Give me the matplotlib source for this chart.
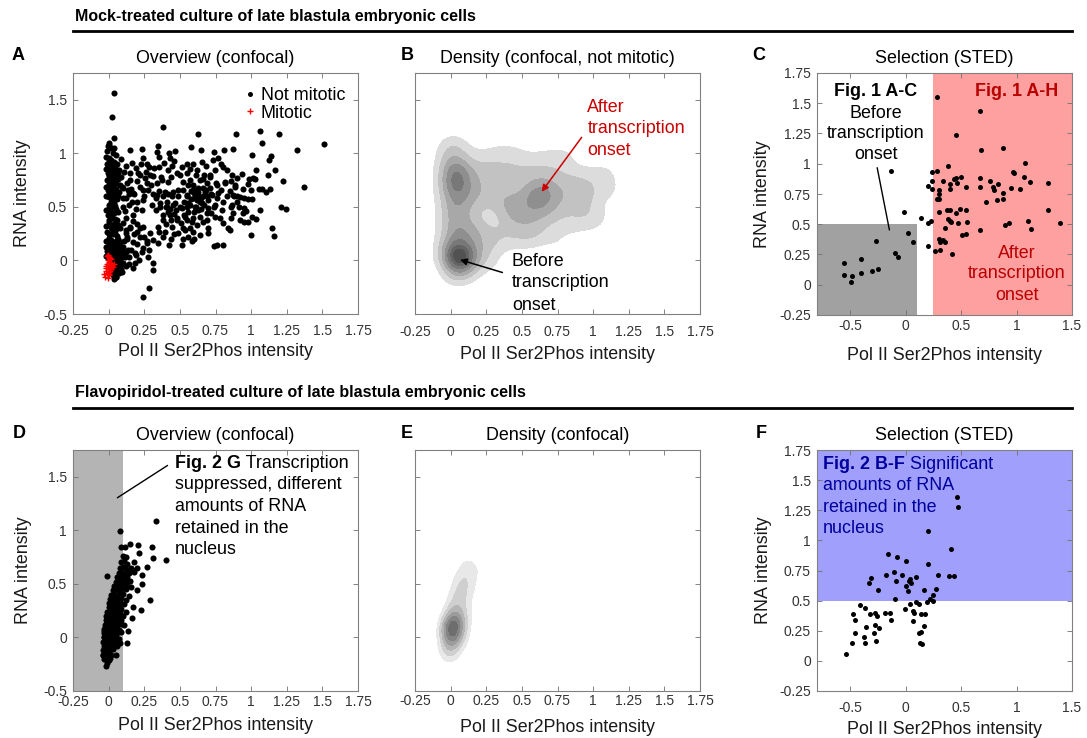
import numpy as np
import matplotlib
matplotlib.use('Agg')
import matplotlib.pyplot as plt
from matplotlib.lines import Line2D
from matplotlib.patches import Rectangle

plt.rcParams['font.family'] = ['Liberation Sans', 'DejaVu Sans']

# ---------------- DATA ----------------
# Panel A: not mitotic cells (Pol II Ser2Phos, RNA)
A_COLUMN = [(0.0,1.08),(0.02,1.05),(-0.01,1.02),(0.03,1.0),(0.05,0.98),(0.0,0.96),(0.015,0.94),(0.04,0.92),
            (-0.01,0.9),(0.06,0.9),(0.02,0.88),(0.0,0.86),(0.035,0.85),(0.07,0.84),(-0.005,0.82),(0.05,0.81),
            (0.02,0.8),(0.01,0.78),(0.04,0.77),(0.065,0.76),(-0.01,0.75),(0.025,0.74),(0.05,0.72),(0.0,0.71),
            (0.035,0.7),(0.08,0.7),(0.015,0.68),(0.055,0.67),(-0.005,0.66),(0.03,0.65),(0.07,0.64),(0.01,0.62),
            (0.045,0.61),(0.0,0.59),(0.025,0.58),(0.06,0.57),(0.015,0.55),(0.04,0.54),(0.02,0.76),(0.04,0.79),
            (0.03,0.72),(0.05,0.75),(0.01,0.73),(0.06,0.8),(0.03,0.83),(0.0,0.79),(0.0,0.52),(0.03,0.5),
            (0.055,0.48),(0.01,0.46),(0.04,0.44),(-0.005,0.42),(0.025,0.4),(0.06,0.38),(0.0,0.36),(0.035,0.34),
            (0.015,0.31),(0.05,0.29),(-0.01,0.27),(0.03,0.25),(0.06,0.23),(0.0,0.21)]
A_COLUMN_FILL = [(-0.015,0.97),(0.005,0.93),(0.025,0.91),(0.045,0.87),(-0.015,0.85),(0.005,0.83),(0.065,0.82),
                 (0.025,0.69),(-0.015,0.69),(0.045,0.66),(0.005,0.64),(0.065,0.6),(-0.015,0.6),(0.025,0.56),
                 (0.045,0.51),(0.005,0.49),(0.065,0.45),(-0.015,0.47),(0.025,0.43),(0.045,0.39),(0.005,0.38),
                 (0.065,0.33),(-0.015,0.32),(0.025,0.29),(0.045,0.26),(0.005,0.25),(0.065,0.2),(-0.015,0.18),
                 (0.025,0.14),(0.045,0.13),(-0.015,0.13),(0.005,0.1),(0.065,0.1),(-0.015,0.04),(0.08,0.06),
                 (0.09,-0.03),(0.1,0.08),(0.11,0.18)]
A_BOTTOM = [(0.02,0.19),(0.05,0.18),(0.08,0.17),(0.0,0.16),(0.035,0.15),(0.065,0.14),(0.1,0.13),(0.015,0.12),
            (0.05,0.11),(0.085,0.1),(-0.01,0.09),(0.03,0.09),(0.06,0.08),(0.12,0.08),(0.0,0.06),(0.04,0.06),
            (0.075,0.05),(0.1,0.04),(0.02,0.04),(0.055,0.03),(0.14,0.03),(-0.005,0.02),(0.035,0.02),(0.08,0.01),
            (0.045,0.0),(0.065,-0.01),(0.02,-0.01),(0.1,-0.02),(0.05,-0.03),(0.03,-0.04),(0.075,-0.05),(0.12,-0.05),
            (0.04,-0.06),(0.06,-0.08),(0.09,-0.08),(0.02,-0.09),(0.045,-0.11),(0.07,-0.12),(0.03,-0.14),(0.055,-0.15),
            (0.04,-0.17),(0.08,-0.1),(0.05,0.02),(0.04,0.03),(0.06,0.01),(0.045,0.04),(0.055,-0.005),(0.035,0.005),
            (0.065,0.025),(0.05,0.05),(0.04,-0.02),(0.06,0.045),(0.03,0.03),(0.07,0.0),
            (0.15,0.3),(0.18,0.25),(0.2,0.15),(0.13,0.2),(0.22,0.3),(0.25,0.22),(0.16,0.1),(0.19,0.05),
            (0.24,0.12),(0.27,0.18),(0.21,0.0),(0.14,-0.03),(0.17,-0.07),(0.12,0.28),(0.28,0.1)]
A_CLOUD = [(0.038,1.562),(0.024,1.335),(0.384,1.248),(0.625,1.182),(0.038,1.139),(0.005,1.095),(-0.002,1.064),
           (0.038,1.049),(0.578,1.055),(0.646,1.03),(0.349,1.073),(0.15,1.03),(0.237,1.042),(0.342,1.017),
           (0.426,1.005),(0.466,1.02),(0.737,1.008),(0.812,1.027),(0.244,0.961),(0.356,0.97),(0.43,0.961),
           (0.513,0.877),(0.552,0.899),(0.59,0.905),(0.653,0.917),(0.73,0.936),(0.77,0.952),(0.786,0.902),
           (0.805,0.868),(0.166,0.908),(0.23,0.899),(0.286,0.877),(0.356,0.877),(0.414,0.846),(0.442,0.883),
           (0.478,0.815),(0.552,0.815),(0.618,0.846),(0.669,0.8),(0.711,0.777),(0.746,0.846),(0.828,0.846),
           (0.863,0.8),(0.11,0.83),(0.15,0.815),(0.204,0.815),(0.255,0.768),(0.314,0.793),(0.372,0.752),
           (0.419,0.737),(0.524,0.737),(0.571,0.752),(0.641,0.752),(0.688,0.721),(0.758,0.706),(0.817,0.737),
           (0.887,0.69),(0.092,0.69),(0.138,0.659),(0.173,0.628),(0.22,0.69),(0.279,0.659),(0.337,0.612),
           (0.396,0.643),(0.442,0.597),(0.489,0.659),(0.548,0.612),(0.594,0.659),(0.629,0.612),(0.676,0.643),
           (0.723,0.612),(0.77,0.628),(0.828,0.597),(0.103,0.581),(0.162,0.55),(0.244,0.565),(0.302,0.519),
           (0.36,0.534),(0.407,0.503),(0.466,0.534),(0.513,0.488),(0.559,0.534),(0.606,0.503),(0.653,0.534),
           (0.7,0.488),(0.747,0.519),(0.793,0.472),(0.863,0.519),(0.115,0.457),(0.173,0.425),(0.232,0.472),
           (0.384,0.379),(0.431,0.425),(0.478,0.379),(0.536,0.41),(0.583,0.363),(0.641,0.41),(0.688,0.379),
           (0.746,0.41),(0.805,0.347),(0.84,0.301),(0.103,0.347),(0.15,0.316),(0.197,0.27),(0.244,0.316),
           (0.29,0.254),(0.349,0.316),(0.396,0.27),(0.442,0.316),(0.489,0.254),(0.536,0.285),(0.594,0.27),
           (0.641,0.238),(0.695,0.254),(0.559,0.223),(0.127,0.223),(0.173,0.176),(0.22,0.223),(0.267,0.161),
           (0.314,0.192),(0.349,0.161),(0.426,0.145),(0.513,0.145),(0.583,0.185),(0.742,0.136),(0.763,0.142),
           (0.805,0.142),(0.092,0.13),(0.138,0.098),(0.185,0.067),(0.232,0.083),(0.279,0.036),(0.314,-0.026),
           (0.309,-0.089),(0.08,0.005),(0.115,0.036),(0.185,-0.026),(0.092,-0.104),(0.052,-0.151),(0.286,-0.26),
           (0.244,-0.338),
           (0.55,0.6),(0.58,0.65),(0.6,0.58),(0.62,0.62),(0.64,0.55),(0.66,0.6),(0.68,0.66),(0.57,0.52),
           (0.61,0.5),(0.65,0.48),(0.7,0.56),(0.72,0.62),(0.59,0.7),(0.63,0.68),(0.53,0.55),(0.67,0.52),
           (0.6,0.45),(0.74,0.5),(0.62,0.56),(0.56,0.45),(0.4,0.5),(0.42,0.45),(0.45,0.52),(0.38,0.42),
           (0.44,0.38),(0.47,0.47),(0.41,0.55),(0.36,0.5),(0.48,0.4),(0.5,0.5),(0.3,0.7),(0.25,0.6),
           (0.35,0.65),(0.2,0.55),(0.33,0.58),(0.15,0.75),(0.18,0.62),(0.1,0.68),(0.12,0.58),(0.22,0.8),
           (0.27,0.9),(0.8,0.55),(0.85,0.65),(0.78,0.4),(0.9,0.6),(0.75,0.72),(0.52,0.3),(0.46,0.25),
           (0.7,0.3),(0.6,0.2),(0.38,0.22)]
A_CLOUD_FILL = [(0.09,0.95),(0.12,0.88),(0.19,0.86),(0.26,0.83),(0.32,0.86),(0.39,0.91),(0.46,0.93),(0.5,0.8),
                (0.44,0.78),(0.34,0.72),(0.27,0.72),(0.2,0.74),(0.13,0.72),(0.09,0.78),(0.16,0.67),(0.24,0.66),
                (0.31,0.62),(0.38,0.6),(0.45,0.64),(0.52,0.66),(0.14,0.62),(0.1,0.5),(0.14,0.52),(0.19,0.48),
                (0.12,0.4),(0.17,0.37),(0.08,0.3),(0.2,0.34),(0.12,0.26),(0.33,0.47),
                (0.4,0.34),(0.43,0.48),(0.46,0.43),(0.49,0.6),(0.53,0.42),(0.51,0.35),(0.55,0.38),(0.57,0.3),
                (0.62,0.33),(0.66,0.36),(0.69,0.44),(0.72,0.44),(0.76,0.58),(0.79,0.66),(0.82,0.72),(0.71,0.8),
                (0.66,0.76),(0.61,0.8),(0.56,0.7),(0.57,0.85),(0.68,0.88),(0.63,0.64),(0.65,0.58),(0.6,0.63),
                (0.58,0.57),(0.55,0.5),(0.63,0.47),(0.69,0.6),(0.61,0.66),(0.66,0.68),(0.71,0.68),(0.59,0.4),
                (0.52,0.2),(0.44,0.2),(0.35,0.27),(0.42,0.62),(0.37,0.78),(0.29,0.8)]
A_SPARSE = [(0.894,1.18),(1.06,1.21),(1.198,1.18),(1.514,1.086),(1.077,1.095),(0.875,1.036),(1.322,1.03),
            (1.009,0.98),(1.14,0.977),(1.128,0.936),(1.037,0.843),(1.165,0.843),(0.939,0.81),(1.121,0.796),
            (0.899,0.774),(0.983,0.765),(1.011,0.774),(1.03,0.759),(1.226,0.743),(0.859,0.743),(0.885,0.703),
            (0.98,0.712),(0.946,0.668),(0.997,0.659),(1.053,0.668),(1.079,0.668),(1.105,0.643),(1.133,0.671),
            (1.369,0.687),(0.871,0.609),(0.882,0.597),(0.925,0.59),(0.95,0.584),(0.98,0.578),(1.006,0.572),
            (0.899,0.541),(0.861,0.503),(0.875,0.447),(0.915,0.5),(0.952,0.488),(0.946,0.441),(0.964,0.463),
            (0.925,0.376),(0.952,0.363),(0.98,0.363),(1.006,0.407),(1.037,0.385),(1.065,0.469),(1.212,0.503),
            (1.243,0.484),(1.149,0.301),(1.158,0.232),(1.0,0.238),(0.86,0.394),(0.852,0.285)]
A_MITOTIC = [(-0.01,0.04),(0.0,0.03),(0.01,0.02),(-0.005,0.0),(0.005,-0.01),(0.015,-0.02),(-0.01,-0.03),
             (0.0,-0.04),(0.02,-0.05),(0.01,-0.06),(-0.015,-0.07),(0.0,-0.08),(0.025,-0.04),(0.03,-0.06),
             (-0.02,-0.1),(-0.01,-0.12),(0.0,-0.11),(0.01,-0.1),(-0.03,-0.13),(-0.025,-0.15),(-0.005,-0.16),
             (0.005,-0.13),(0.02,0.01),(-0.005,0.05),(0.015,-0.08),(0.035,-0.03),(-0.02,-0.05),(0.0,-0.14)]

# Panel C: STED selection, mock
C_POINTS = [(-0.56,0.18),(-0.56,0.083),(-0.48,0.072),(-0.49,0.025),(-0.40,0.097),(-0.40,0.21),(-0.30,0.11),
            (-0.25,0.13),(-0.27,0.36),(-0.10,0.26),(-0.07,0.23),(-0.13,0.94),(-0.015,0.60),(0.02,0.43),
            (0.07,0.35),(0.14,0.55),(0.20,0.51),(0.20,0.82),(0.23,0.53),(0.20,0.32),(0.26,0.28),(0.24,0.93),
            (0.24,0.86),(0.24,0.79),(0.28,1.55),(0.28,0.94),(0.28,0.71),(0.30,0.78),(0.30,0.75),(0.30,0.71),
            (0.30,0.60),(0.30,0.38),(0.31,0.35),(0.31,0.285),(0.34,0.86),(0.35,0.47),(0.34,0.37),(0.35,0.35),
            (0.37,0.62),(0.38,0.98),(0.40,0.83),(0.40,0.79),(0.38,0.54),(0.40,0.53),(0.41,0.52),(0.40,0.62),
            (0.42,0.25),(0.44,0.87),(0.45,0.88),(0.46,0.84),(0.45,1.24),(0.45,0.59),(0.47,0.51),(0.50,0.89),
            (0.49,0.63),(0.51,0.41),(0.54,0.62),(0.55,0.52),(0.54,0.42),(0.54,0.81),(0.67,0.88),(0.67,0.81),
            (0.67,1.44),(0.68,1.11),(0.67,0.45),(0.72,0.68),(0.76,0.86),(0.79,0.81),(0.80,0.78),(0.82,0.70),
            (0.83,0.83),(0.88,1.13),(0.88,0.76),(0.88,0.71),(0.90,0.49),(0.93,0.51),(0.95,0.80),(0.97,0.93),
            (0.98,0.92),(1.03,0.79),(1.07,0.89),(1.08,1.01),(1.10,0.53),(1.12,0.85),(1.13,0.46),(1.28,0.84),
            (1.28,0.62),(1.39,0.51)]

# Panel D: flavopiridol overview
D_CORE = [(-0.02,-0.27),(-0.01,-0.24),(-0.03,-0.2),(0.0,-0.21),(0.01,-0.19),
          (-0.04,-0.16),(-0.02,-0.15),(0.0,-0.17),(0.02,-0.16),(0.055,-0.16),
          (-0.04,-0.12),(-0.025,-0.11),(-0.01,-0.13),(0.01,-0.12),(0.03,-0.11),
          (-0.035,-0.08),(-0.02,-0.07),(0.0,-0.09),(0.015,-0.08),(0.035,-0.07),(0.06,-0.08),
          (-0.04,-0.04),(-0.02,-0.03),(-0.005,-0.05),(0.01,-0.04),(0.025,-0.03),(0.045,-0.04),(0.08,-0.05),
          (-0.03,0.0),(-0.015,0.01),(0.0,-0.01),(0.015,0.0),(0.03,0.01),(0.05,0.0),(0.07,-0.01),
          (-0.035,0.04),(-0.02,0.05),(-0.005,0.03),(0.01,0.04),(0.025,0.05),(0.04,0.03),(0.06,0.04),(0.09,0.05),
          (-0.03,0.08),(-0.01,0.09),(0.005,0.07),(0.02,0.08),(0.035,0.09),(0.05,0.08),(0.07,0.07),
          (-0.025,0.12),(-0.01,0.11),(0.005,0.13),(0.02,0.12),(0.04,0.11),(0.06,0.12),(0.085,0.13),(0.11,0.12),
          (-0.02,0.16),(0.0,0.17),(0.015,0.15),(0.03,0.16),(0.045,0.17),(0.065,0.15),(0.09,0.16),
          (-0.015,0.2),(0.0,0.19),(0.02,0.21),(0.035,0.2),(0.05,0.19),(0.07,0.21),(0.1,0.2),
          (-0.01,0.24),(0.01,0.25),(0.025,0.23),(0.04,0.24),(0.06,0.25),(0.08,0.23),(0.12,0.24),
          (0.0,0.28),(0.015,0.29),(0.03,0.27),(0.05,0.28),(0.07,0.29),(0.09,0.27),
          (0.005,0.32),(0.02,0.33),(0.04,0.31),(0.06,0.32),(0.08,0.33),(0.11,0.31),
          (0.01,0.36),(0.03,0.37),(0.05,0.35),(0.07,0.36),(0.09,0.37),(0.12,0.35),
          (0.02,0.4),(0.04,0.41),(0.06,0.39),(0.08,0.4),(0.1,0.41),(0.14,0.39),
          (0.03,0.44),(0.05,0.45),(0.07,0.43),(0.09,0.44),(0.12,0.45),
          (0.04,0.48),(0.06,0.49),(0.08,0.47),(0.1,0.48),(0.13,0.49),(0.16,0.47),
          (0.05,0.52),(0.07,0.53),(0.09,0.51),(0.12,0.52),(0.15,0.53),
          (0.06,0.56),(0.08,0.57),(0.1,0.55),(0.13,0.56),
          (0.07,0.6),(0.09,0.61),(0.11,0.59),(0.14,0.6),(0.18,0.61),
          (0.08,0.65),(0.1,0.66),(0.12,0.64),(0.16,0.65),
          (0.09,0.7),(0.11,0.71),(0.13,0.69),(0.1,0.76),(0.12,0.75),(0.085,0.84),(0.115,0.84),
          (0.0,0.1),(0.01,0.06),(0.02,0.1),(0.0,0.14),(0.03,0.13),(-0.01,0.06),(0.015,0.02),(0.025,0.17)]
D_DENSE = [(-0.02,0.0),(-0.01,0.03),(0.0,0.05),(0.01,0.08),(0.02,0.04),(0.03,0.07),(0.04,0.1),(0.0,0.12),
           (-0.02,0.1),(0.01,0.15),(0.03,0.18),(-0.01,0.16),(0.05,0.14),(0.02,0.19),(-0.03,0.06),(0.04,0.05),
           (0.0,-0.03),(0.02,-0.02),(-0.01,-0.06),(0.03,-0.05),(0.05,0.1),(0.015,0.11),(-0.005,0.08),(0.025,0.14),
           (0.01,0.0),(-0.02,0.13),(0.045,0.2),(0.035,0.02),(0.0,0.21),(-0.015,-0.1)]
D_OUTER = [(0.08,0.99),(0.33,1.09),(0.40,0.72),(0.306,0.84),(0.31,0.74),(0.267,0.66),(0.15,0.87),(0.208,0.86),
           (0.215,0.79),(0.178,0.70),(0.162,0.63),(0.197,0.645),(0.232,0.58),(0.232,0.50),(0.197,0.44),
           (0.29,0.35),(0.23,0.26),(0.173,0.28),(0.162,0.18),(0.133,0.06),(0.127,-0.05),(-0.04,-0.16),
           (-0.01,0.57),(-0.03,0.0)]

# Panel F: STED selection, flavopiridol
F_POINTS = [(-0.54,0.055),(-0.485,0.147),(-0.475,0.39),(-0.455,0.34),(-0.455,0.235),(-0.41,0.46),(-0.365,0.44),
            (-0.38,0.20),(-0.365,0.15),(-0.36,0.28),(-0.335,0.65),(-0.315,0.69),(-0.32,0.39),(-0.28,0.40),
            (-0.26,0.37),(-0.285,0.23),(-0.28,0.30),(-0.27,0.166),(-0.24,0.27),(-0.25,0.59),(-0.19,0.40),
            (-0.18,0.71),(-0.16,0.89),(-0.145,0.40),(-0.135,0.34),(-0.11,0.74),(-0.095,0.515),(-0.09,0.665),
            (-0.075,0.86),(-0.035,0.71),(-0.01,0.43),(0.0,0.83),(0.005,0.62),(0.02,0.58),(0.03,0.66),
            (0.04,0.68),(0.045,0.65),(0.035,0.47),(0.065,0.41),(0.065,0.335),(0.075,0.40),(0.09,0.70),
            (0.095,0.485),(0.12,0.47),(0.12,0.23),(0.13,0.147),(0.145,0.14),(0.135,0.24),(0.135,0.385),
            (0.165,0.59),(0.165,0.29),(0.17,0.385),(0.205,1.08),(0.20,0.80),(0.195,0.49),(0.22,0.51),
            (0.245,0.50),(0.245,0.545),(0.27,0.60),(0.295,0.71),(0.41,0.93),(0.395,0.705),(0.44,0.705),
            (0.46,1.36),(0.476,1.28)]

# selection thresholds
C_BEFORE_XMAX, C_BEFORE_YMAX = 0.1, 0.5
C_AFTER_XMIN = 0.25
D_SEL_XMAX = 0.1
F_SEL_YMIN = 0.5

# tick definitions
OV_XT = [-0.25, 0, 0.25, 0.5, 0.75, 1, 1.25, 1.5, 1.75]
OV_XTL = ['-0.25', '0', '0.25', '0.5', '0.75', '1', '1.25', '1.5', '1.75']
OV_YT = [-0.5, 0, 0.5, 1, 1.5]
OV_YTL = ['-0.5', '0', '0.5', '1', '1.5']
ST_XT = [-0.5, 0, 0.5, 1, 1.5]
ST_XTL = ['-0.5', '0', '0.5', '1', '1.5']
ST_YT = [-0.25, 0, 0.25, 0.5, 0.75, 1, 1.25, 1.5, 1.75]
ST_YTL = ['-0.25', '0', '0.25', '0.5', '0.75', '1', '1.25', '1.5', '1.75']

# ---------------- FIGURE ----------------
W, H = 1087, 738
fig = plt.figure(figsize=(W / 100, H / 100), dpi=100)
FS = 12.9
TFS = 10.0


def add_ax(l, t, r, b):
    return fig.add_axes([l / W, 1 - b / H, (r - l) / W, (b - t) / H])


def style(ax, xlim, ylim, xt, xtl, yt, ytl, xpad, ylab_top, show_y=True, ylab_x=-0.147):
    ax.set_xlim(xlim)
    ax.set_ylim(ylim)
    ax.set_xticks(xt)
    ax.set_xticklabels(xtl)
    ax.set_yticks(yt)
    ax.set_yticklabels(ytl if show_y else [])
    ax.tick_params(direction='in', top=True, right=True, length=3.5, width=0.6,
                   color='#707070', labelcolor='#333333', labelsize=TFS)
    ax.tick_params(axis='x', pad=xpad)
    ax.tick_params(axis='y', pad=4.5)
    for s in ax.spines.values():
        s.set_color('#808080')
        s.set_linewidth(0.8)
    ax.set_xlabel('Pol II Ser2Phos intensity', fontsize=FS, color='#1a1a1a')
    ax.xaxis.set_label_coords(0.5, ylab_top)
    if show_y:
        ax.set_ylabel('RNA intensity', fontsize=FS, color='#1a1a1a')
        ax.yaxis.set_label_coords(ylab_x, 0.5)


def xy(pts):
    a = np.array(pts, dtype=float)
    return a[:, 0], a[:, 1]


def kde(xs, ys, gx, gy, hx, hy):
    X, Y = np.meshgrid(gx, gy)
    Z = np.zeros_like(X)
    for xi, yi in zip(xs, ys):
        Z += np.exp(-0.5 * (((X - xi) / hx) ** 2 + ((Y - yi) / hy) ** 2))
    return X, Y, Z / Z.max()


def lines(ax, x, ys, texts, **kw):
    for yy, t in zip(ys, texts):
        ax.text(x, yy, t, fontsize=FS, va='center', **kw)


DOT_BIG = dict(marker='o', linestyle='none', color='k', markersize=4.4, markeredgewidth=0)
DOT = dict(marker='o', linestyle='none', color='k', markersize=3.6, markeredgewidth=0)

# headers
fig.text(75 / W, 1 - 17 / H, 'Mock-treated culture of late blastula embryonic cells',
         fontsize=11.5, weight='bold', va='center', ha='left')
fig.add_artist(Line2D([73 / W, 1072 / W], [1 - 31 / H] * 2, color='k', lw=2))
fig.text(75 / W, 1 - 393 / H, 'Flavopiridol-treated culture of late blastula embryonic cells',
         fontsize=11.5, weight='bold', va='center', ha='left')
fig.add_artist(Line2D([73 / W, 1072 / W], [1 - 408 / H] * 2, color='k', lw=2))

# panel letters
for lab, px, py in [('A', 18, 56), ('B', 407, 56), ('C', 759, 56),
                    ('D', 19, 433), ('E', 407, 433), ('F', 761, 433)]:
    fig.text(px / W, 1 - py / H, lab, fontsize=13, weight='bold', ha='center', va='center')

# ---- Panel A
axA = add_ax(73, 73, 358, 314)
ax_nm = xy(A_COLUMN + A_COLUMN_FILL + A_BOTTOM + A_CLOUD + A_CLOUD_FILL + A_SPARSE)
axA.plot(ax_nm[0], ax_nm[1], label='Not mitotic', **DOT_BIG)
mx, my = xy(A_MITOTIC)
axA.plot(mx, my, linestyle='none', marker='+', color='red', markersize=5, markeredgewidth=1.0, label='Mitotic')
style(axA, (-0.25, 1.75), (-0.5, 1.75), OV_XT, OV_XTL, OV_YT, OV_YTL, 7, -0.12)
axA.set_title('Overview (confocal)', fontsize=FS, pad=7.5)
leg = axA.legend(loc='upper right', bbox_to_anchor=(0.975, 0.965), frameon=False, fontsize=FS,
                 handlelength=0.6, handletextpad=0.3, borderaxespad=0.1, labelspacing=0.05, borderpad=0.2)
leg.legend_handles[0].set_markersize(3.6)

# ---- Panel B
axB = add_ax(415, 73, 700, 314)
gx = np.linspace(-0.25, 1.75, 300)
gy = np.linspace(-0.5, 1.75, 300)
X, Y, Z = kde(ax_nm[0], ax_nm[1], gx, gy, 0.075, 0.08)
B_LEVELS = [0.1, 0.23, 0.37, 0.51, 0.65, 0.79, 0.9, 1.01]
B_COLORS = ['#dcdcdc', '#c2c2c2', '#a8a8a8', '#8f8f8f', '#787878', '#646464', '#525252']
axB.contourf(X, Y, Z, levels=B_LEVELS, colors=B_COLORS)
style(axB, (-0.25, 1.75), (-0.5, 1.75), OV_XT, OV_XTL, OV_YT, OV_YTL, 8, -0.133, show_y=False)
axB.set_title('Density (confocal, not mitotic)', fontsize=FS, pad=7.5)
lines(axB, 0.96, [1.43, 1.23, 1.03], ['After', 'transcription', 'onset'], color='#cc0000', ha='left')
axB.annotate('', xy=(0.627, 0.62), xytext=(0.931, 1.17),
             arrowprops=dict(arrowstyle='-|>', color='#cc0000', lw=1.1, mutation_scale=10))
lines(axB, 0.43, [-0.01, -0.21, -0.42], ['Before', 'transcription', 'onset'], color='k', ha='left')
axB.annotate('', xy=(0.047, 0.014), xytext=(0.382, -0.12),
             arrowprops=dict(arrowstyle='-|>', color='k', lw=1.1, mutation_scale=10))

# ---- Panel C
axC = add_ax(817, 73, 1072, 315)
C_XLIM, C_YLIM = (-0.8, 1.5), (-0.25, 1.75)
axC.add_patch(Rectangle((C_XLIM[0], C_YLIM[0]), C_BEFORE_XMAX - C_XLIM[0], C_BEFORE_YMAX - C_YLIM[0],
                        facecolor='#a1a1a1', edgecolor='none', zorder=0))
axC.add_patch(Rectangle((C_AFTER_XMIN, C_YLIM[0]), C_XLIM[1] - C_AFTER_XMIN, C_YLIM[1] - C_YLIM[0],
                        facecolor='#ffa0a0', edgecolor='none', zorder=0))
cx, cy = xy(C_POINTS)
axC.plot(cx, cy, **DOT)
style(axC, C_XLIM, C_YLIM, ST_XT, ST_XTL, ST_YT, ST_YTL, 3, -0.132, ylab_x=-0.18)
axC.set_title('Selection (STED)', fontsize=FS, pad=7.5)
axC.text(-0.27, 1.595, 'Fig. 1 A-C', fontsize=FS, weight='bold', ha='center', va='center')
lines(axC, -0.27, [1.417, 1.246, 1.08], ['Before', 'transcription', 'onset'], color='k', ha='center')
axC.annotate('', xy=(-0.142, 0.43), xytext=(-0.262, 0.99),
             arrowprops=dict(arrowstyle='-', color='k', lw=1.0))
axC.text(1.0, 1.595, 'Fig. 1 A-H', fontsize=FS, weight='bold', ha='center', va='center', color='#b80000')
lines(axC, 1.0, [0.26, 0.09, -0.09], ['After', 'transcription', 'onset'], color='#b80000', ha='center')

# ---- Panel D
axD = add_ax(73, 450, 358, 691)
axD.add_patch(Rectangle((-0.25, -0.5), D_SEL_XMAX + 0.25, 2.25, facecolor='#b4b4b4',
                        edgecolor='none', zorder=0))
dx, dy = xy(D_CORE + D_DENSE + D_OUTER)
axD.plot(dx, dy, **DOT_BIG)
style(axD, (-0.25, 1.75), (-0.5, 1.75), OV_XT, OV_XTL, OV_YT, OV_YTL, 3, -0.108, ylab_x=-0.144)
axD.set_title('Overview (confocal)', fontsize=FS, pad=7.5)
tD = axD.text(0.466, 1.628, 'Fig. 2 G', fontsize=FS, weight='bold', ha='left', va='center')
axD.annotate(' Transcription', xy=(1, 0), xycoords=tD, fontsize=FS, ha='left', va='bottom')
lines(axD, 0.466, [1.425, 1.222, 1.02, 0.818],
      ['suppressed, different', 'amounts of RNA', 'retained in the', 'nucleus'], color='k', ha='left')
axD.annotate('', xy=(0.045, 1.29), xytext=(0.43, 1.62),
             arrowprops=dict(arrowstyle='-', color='k', lw=1.0))

# ---- Panel E
axE = add_ax(415, 450, 700, 691)
X2, Y2, Z2 = kde(dx, dy, gx, gy, 0.055, 0.07)
E_LEVELS = [0.2, 0.34, 0.48, 0.62, 0.76, 0.9, 1.01]
E_COLORS = ['#e8e8e8', '#cfcfcf', '#b5b5b5', '#9c9c9c', '#858585', '#6e6e6e']
axE.contourf(X2, Y2, Z2, levels=E_LEVELS, colors=E_COLORS)
style(axE, (-0.25, 1.75), (-0.5, 1.75), OV_XT, OV_XTL, OV_YT, OV_YTL, 2, -0.116, show_y=False)
axE.set_title('Density (confocal)', fontsize=FS, pad=7.5)

# ---- Panel F
axF = add_ax(817, 450, 1072, 691)
F_XLIM, F_YLIM = (-0.8, 1.5), (-0.25, 1.75)
axF.add_patch(Rectangle((F_XLIM[0], F_SEL_YMIN), F_XLIM[1] - F_XLIM[0], F_YLIM[1] - F_SEL_YMIN,
                        facecolor='#a0a0fc', edgecolor='none', zorder=0))
fx, fy = xy(F_POINTS)
axF.plot(fx, fy, **DOT)
style(axF, F_XLIM, F_YLIM, ST_XT, ST_XTL, ST_YT, ST_YTL, 7, -0.125, ylab_x=-0.176)
axF.set_title('Selection (STED)', fontsize=FS, pad=7.5)
BLUE = '#00009c'
tF = axF.text(-0.749, 1.632, 'Fig. 2 B-F', fontsize=FS, weight='bold', ha='left', va='center', color=BLUE)
axF.annotate(' Significant', xy=(1, 0), xycoords=tF, fontsize=FS, ha='left', va='bottom', color=BLUE)
lines(axF, -0.749, [1.453, 1.274, 1.095], ['amounts of RNA', 'retained in the', 'nucleus'],
      color=BLUE, ha='left')

fig.savefig('out.png', dpi=100)
